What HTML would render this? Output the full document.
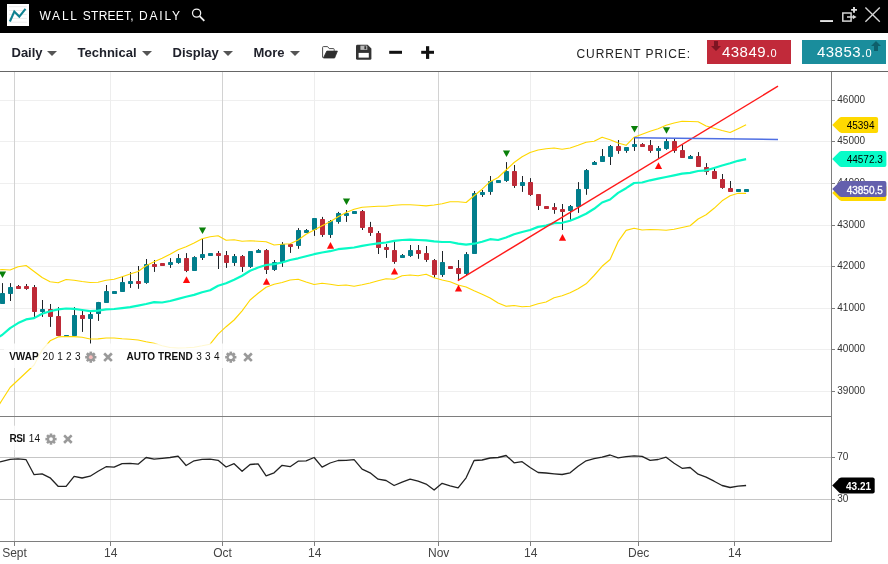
<!DOCTYPE html>
<html><head><meta charset="utf-8"><title>Wall Street, Daily</title>
<style>
html,body{margin:0;padding:0;background:#fff;}
body{width:888px;height:564px;position:relative;overflow:hidden;font-family:"Liberation Sans",sans-serif;}
#hdr{position:absolute;left:0;top:0;width:888px;height:33px;background:#000;}
#title{position:absolute;left:39px;top:7.5px;color:#fff;font-size:12px;letter-spacing:1.17px;line-height:16px;white-space:nowrap;}
#title span{position:absolute;top:0;}
#tb{position:absolute;left:0;top:33px;width:888px;height:38px;background:#fff;border-bottom:1px solid #666;}
.mi{position:absolute;top:12px;font-weight:bold;font-size:13px;line-height:15px;color:#20222c;white-space:nowrap;}
.car{position:absolute;top:17.5px;width:0;height:0;border-left:5px solid transparent;border-right:5px solid transparent;border-top:5.5px solid #555;}
#cp{position:absolute;left:576.5px;top:14px;font-size:12px;line-height:15px;color:#222;letter-spacing:0.9px;white-space:nowrap;}
.btn{position:absolute;top:7px;height:24px;color:#fff;font-size:15px;line-height:24px;white-space:nowrap;letter-spacing:0.45px;}
.btn small{font-size:11px;}
#sell{left:707px;width:84px;background:#c12a3a;}
#buy{left:802px;width:84px;background:#1a8d9c;}
#chart{position:absolute;left:0;top:0;}
</style></head><body>
<div id="hdr">
<svg width="888" height="33" style="position:absolute;left:0;top:0">
 <rect x="7" y="4" width="22" height="22" fill="#fff"/>
 <g stroke="#ececec" stroke-width="1"><line x1="9" y1="6.7" x2="26.8" y2="6.7"/><line x1="9" y1="10.5" x2="26.8" y2="10.5"/><line x1="9" y1="14.4" x2="26.8" y2="14.4"/><line x1="9" y1="18.4" x2="26.8" y2="18.4"/><line x1="9" y1="22.2" x2="26.8" y2="22.2"/></g>
 <polyline points="9.9,21.5 14.3,11.5 19.3,16.6 25.5,8.8" fill="none" stroke="#0e8090" stroke-width="2.1" stroke-linecap="butt" stroke-linejoin="miter"/>
 <g stroke="#f0f0f0" fill="none" stroke-width="1.25"><circle cx="196.6" cy="13.1" r="4.1"/><line x1="199.6" y1="16.2" x2="204.3" y2="20.9" stroke-width="1.8"/></g>
 <rect x="820.1" y="20.1" width="12.9" height="1.9" fill="#e4e4e4"/>
 <rect x="842.8" y="13" width="8.3" height="8.1" fill="none" stroke="#d4d4d4" stroke-width="1.5"/>
 <path d="M847,17 H853.4" stroke="#d4d4d4" stroke-width="1.5" fill="none"/><path d="M852.8,14.8 L856.6,17 L852.8,19.3 Z" fill="#dcdcdc"/>
 <path d="M854,7 V12.7 M851.1,9.85 H857" stroke="#e0e0e0" stroke-width="1.9" fill="none"/>
 <g stroke="#d6d6d6" stroke-width="1.35"><line x1="865.4" y1="7.4" x2="879.8" y2="21.7"/><line x1="879.8" y1="7.4" x2="865.4" y2="21.7"/></g>
</svg>
<div id="title"><span style="left:0.4px;letter-spacing:1.8px">WALL</span> <span style="left:43.8px;letter-spacing:0.25px">STREET,</span> <span style="left:100px;letter-spacing:1.8px">DAILY</span></div>
</div>
<div id="tb">
 <span class="mi" id="m1" style="left:11.5px">Daily</span><i class="car" style="left:47px"></i>
 <span class="mi" id="m2" style="left:77.5px">Technical</span><i class="car" style="left:142px"></i>
 <span class="mi" id="m3" style="left:172.5px">Display</span><i class="car" style="left:222.5px"></i>
 <span class="mi" id="m4" style="left:253.5px">More</span><i class="car" style="left:290px"></i>
 <svg width="130" height="38" style="position:absolute;left:315px;top:0">
  <g transform="translate(-315,-33)">
   <path d="M322.6,57.6 V47.4 Q322.6,46.6 323.4,46.6 H327.6 L329.2,48.6 H333.4 Q334.2,48.6 334.2,49.4 V50.8" fill="none" stroke="#4a4a4a" stroke-width="1" stroke-linejoin="round"/>
   <path d="M323.4,58 L326.8,51.1 H337.4 L334.6,58 Z" fill="#2e2e2e" stroke="#2e2e2e" stroke-width="0.8" stroke-linejoin="round"/>
   <path d="M357.4,44.8 H367.6 L371.4,48.4 V58.4 Q371.4,59.8 370,59.8 H357.4 Q356,59.8 356,58.4 V46.2 Q356,44.8 357.4,44.8 Z" fill="#333"/>
   <rect x="358.6" y="52.9" width="10.2" height="4.7" fill="#fff"/>
   <rect x="360.4" y="45.6" width="6.9" height="4.3" fill="#b9b9b9"/><rect x="364.4" y="46.2" width="1.8" height="3" fill="#333"/>
   <rect x="389.2" y="50.8" width="12.8" height="3" fill="#111"/>
   <rect x="421.2" y="50.8" width="12.8" height="3" fill="#111"/><rect x="426" y="46.2" width="3.2" height="12.7" fill="#111"/>
  </g>
 </svg>
 <div id="cp">CURRENT PRICE:</div>
 <div class="btn" id="sell"><svg width="10" height="11" style="position:absolute;left:4.2px;top:1.2px"><path d="M3,0 H7 V5 H10 L5,10 L0,5 H3 Z" fill="#7e1422"/></svg><span id="st" style="position:absolute;left:15px">43849.<small>0</small></span></div>
 <div class="btn" id="buy"><svg width="10" height="11" style="position:absolute;right:5.3px;top:1.2px"><path d="M3,10 H7 V5 H10 L5,0 L0,5 H3 Z" fill="#0e5f6b"/></svg><span id="bt" style="position:absolute;left:15px">43853.<small>0</small></span></div>
</div>
<svg id="chart" width="888" height="564" viewBox="0 0 888 564">
<g shape-rendering="crispEdges">
<rect x="0" y="100" width="831" height="1" fill="#efefef"/>
<rect x="0" y="141" width="831" height="1" fill="#efefef"/>
<rect x="0" y="183" width="831" height="1" fill="#efefef"/>
<rect x="0" y="225" width="831" height="1" fill="#efefef"/>
<rect x="0" y="266" width="831" height="1" fill="#efefef"/>
<rect x="0" y="308" width="831" height="1" fill="#efefef"/>
<rect x="0" y="349" width="831" height="1" fill="#efefef"/>
<rect x="0" y="391" width="831" height="1" fill="#efefef"/>
<rect x="14" y="72" width="1" height="469" fill="#d2d2d2"/>
<rect x="110" y="72" width="1" height="469" fill="#ededed"/>
<rect x="222" y="72" width="1" height="469" fill="#d2d2d2"/>
<rect x="314" y="72" width="1" height="469" fill="#ededed"/>
<rect x="438" y="72" width="1" height="469" fill="#d2d2d2"/>
<rect x="530" y="72" width="1" height="469" fill="#ededed"/>
<rect x="638" y="72" width="1" height="469" fill="#d2d2d2"/>
<rect x="734" y="72" width="1" height="469" fill="#ededed"/>
<rect x="0" y="457" width="832" height="1" fill="#c6c6c6"/>
<rect x="0" y="499" width="832" height="1" fill="#c6c6c6"/>
</g>
<g>
<rect x="2" y="283.1" width="1" height="20.6" fill="#1e2328"/>
<rect x="0" y="293" width="5" height="11" rx="0.7" fill="#027e8c"/>
<rect x="10" y="283.1" width="1" height="17.9" fill="#1e2328"/>
<rect x="8" y="287" width="5" height="7" rx="0.7" fill="#027e8c"/>
<rect x="18" y="285.0" width="1" height="3.8" fill="#1e2328"/>
<rect x="16" y="286" width="5" height="3" rx="0.7" fill="#be2a37"/>
<rect x="26" y="284.0" width="1" height="5.8" fill="#1e2328"/>
<rect x="24" y="286" width="5" height="3" rx="0.7" fill="#be2a37"/>
<rect x="34" y="285.0" width="1" height="31.9" fill="#1e2328"/>
<rect x="32" y="287" width="5" height="25" rx="0.7" fill="#be2a37"/>
<rect x="42" y="300.0" width="1" height="16.9" fill="#1e2328"/>
<rect x="40" y="309" width="5" height="3" rx="0.7" fill="#027e8c"/>
<rect x="50" y="304.0" width="1" height="22.9" fill="#1e2328"/>
<rect x="48" y="309" width="5" height="8" rx="0.7" fill="#be2a37"/>
<rect x="58" y="307.1" width="1" height="28.9" fill="#1e2328"/>
<rect x="56" y="316" width="5" height="20" rx="0.7" fill="#be2a37"/>
<rect x="64" y="335" width="5" height="2" rx="0.7" fill="#027e8c"/>
<rect x="74" y="307.1" width="1" height="28.8" fill="#1e2328"/>
<rect x="72" y="315" width="5" height="21" rx="0.7" fill="#027e8c"/>
<rect x="82" y="310.6" width="1" height="21.3" fill="#1e2328"/>
<rect x="80" y="315" width="5" height="4" rx="0.7" fill="#be2a37"/>
<rect x="90" y="312.0" width="1" height="31.8" fill="#1e2328"/>
<rect x="88" y="314" width="5" height="5" rx="0.7" fill="#027e8c"/>
<rect x="98" y="301.9" width="1" height="19.0" fill="#1e2328"/>
<rect x="96" y="302" width="5" height="12" rx="0.7" fill="#027e8c"/>
<rect x="106" y="285.0" width="1" height="17.8" fill="#1e2328"/>
<rect x="104" y="291" width="5" height="12" rx="0.7" fill="#027e8c"/>
<rect x="112" y="291" width="5" height="3" rx="0.7" fill="#027e8c"/>
<rect x="122" y="276.0" width="1" height="15.9" fill="#1e2328"/>
<rect x="120" y="282" width="5" height="10" rx="0.7" fill="#027e8c"/>
<rect x="130" y="272.1" width="1" height="15.8" fill="#1e2328"/>
<rect x="128" y="281" width="5" height="3" rx="0.7" fill="#027e8c"/>
<rect x="138" y="266.0" width="1" height="22.8" fill="#1e2328"/>
<rect x="136" y="281" width="5" height="3" rx="0.7" fill="#be2a37"/>
<rect x="146" y="259.0" width="1" height="24.8" fill="#1e2328"/>
<rect x="144" y="264" width="5" height="19" rx="0.7" fill="#027e8c"/>
<rect x="154" y="260.0" width="1" height="11.9" fill="#1e2328"/>
<rect x="152" y="264" width="5" height="3" rx="0.7" fill="#be2a37"/>
<rect x="160" y="263" width="5" height="3" rx="0.7" fill="#be2a37"/>
<rect x="170" y="258.1" width="1" height="9.8" fill="#1e2328"/>
<rect x="168" y="262" width="5" height="3" rx="0.7" fill="#027e8c"/>
<rect x="178" y="254.0" width="1" height="9.8" fill="#1e2328"/>
<rect x="176" y="258" width="5" height="5" rx="0.7" fill="#027e8c"/>
<rect x="186" y="253.1" width="1" height="19.0" fill="#1e2328"/>
<rect x="184" y="258" width="5" height="13" rx="0.7" fill="#be2a37"/>
<rect x="194" y="256.2" width="1" height="14.6" fill="#1e2328"/>
<rect x="192" y="257" width="5" height="14" rx="0.7" fill="#027e8c"/>
<rect x="202" y="239.0" width="1" height="21.0" fill="#1e2328"/>
<rect x="200" y="254" width="5" height="4" rx="0.7" fill="#027e8c"/>
<rect x="208" y="253" width="5" height="3" rx="0.7" fill="#027e8c"/>
<rect x="218" y="251.0" width="1" height="18.0" fill="#1e2328"/>
<rect x="216" y="253" width="5" height="3" rx="0.7" fill="#be2a37"/>
<rect x="226" y="251.0" width="1" height="16.9" fill="#1e2328"/>
<rect x="224" y="255" width="5" height="8" rx="0.7" fill="#be2a37"/>
<rect x="234" y="254.0" width="1" height="11.9" fill="#1e2328"/>
<rect x="232" y="256" width="5" height="7" rx="0.7" fill="#027e8c"/>
<rect x="242" y="255.0" width="1" height="16.9" fill="#1e2328"/>
<rect x="240" y="256" width="5" height="11" rx="0.7" fill="#be2a37"/>
<rect x="250" y="251.0" width="1" height="16.9" fill="#1e2328"/>
<rect x="248" y="251" width="5" height="16" rx="0.7" fill="#027e8c"/>
<rect x="258" y="249.0" width="1" height="3.9" fill="#1e2328"/>
<rect x="256" y="250" width="5" height="3" rx="0.7" fill="#027e8c"/>
<rect x="266" y="249.0" width="1" height="25.0" fill="#1e2328"/>
<rect x="264" y="250" width="5" height="20" rx="0.7" fill="#be2a37"/>
<rect x="274" y="260.0" width="1" height="10.9" fill="#1e2328"/>
<rect x="272" y="262" width="5" height="8" rx="0.7" fill="#027e8c"/>
<rect x="282" y="242.1" width="1" height="24.8" fill="#1e2328"/>
<rect x="280" y="244" width="5" height="18" rx="0.7" fill="#027e8c"/>
<rect x="290" y="243.0" width="1" height="9.9" fill="#1e2328"/>
<rect x="288" y="244" width="5" height="3" rx="0.7" fill="#be2a37"/>
<rect x="298" y="228.1" width="1" height="20.7" fill="#1e2328"/>
<rect x="296" y="230" width="5" height="16" rx="0.7" fill="#027e8c"/>
<rect x="306" y="229.0" width="1" height="3.9" fill="#1e2328"/>
<rect x="304" y="230" width="5" height="3" rx="0.7" fill="#027e8c"/>
<rect x="314" y="218.1" width="1" height="17.8" fill="#1e2328"/>
<rect x="312" y="218" width="5" height="12" rx="0.7" fill="#027e8c"/>
<rect x="322" y="216.9" width="1" height="20.0" fill="#1e2328"/>
<rect x="320" y="219" width="5" height="16" rx="0.7" fill="#be2a37"/>
<rect x="330" y="220.0" width="1" height="17.9" fill="#1e2328"/>
<rect x="328" y="221" width="5" height="14" rx="0.7" fill="#027e8c"/>
<rect x="338" y="211.9" width="1" height="11.8" fill="#1e2328"/>
<rect x="336" y="213" width="5" height="9" rx="0.7" fill="#027e8c"/>
<rect x="346" y="210.0" width="1" height="11.9" fill="#1e2328"/>
<rect x="344" y="213" width="5" height="3" rx="0.7" fill="#027e8c"/>
<rect x="352" y="211" width="5" height="3" rx="0.7" fill="#027e8c"/>
<rect x="362" y="210.0" width="1" height="20.0" fill="#1e2328"/>
<rect x="360" y="211" width="5" height="17" rx="0.7" fill="#be2a37"/>
<rect x="370" y="221.9" width="1" height="14.0" fill="#1e2328"/>
<rect x="368" y="227" width="5" height="6" rx="0.7" fill="#be2a37"/>
<rect x="378" y="231.0" width="1" height="23.0" fill="#1e2328"/>
<rect x="376" y="233" width="5" height="15" rx="0.7" fill="#be2a37"/>
<rect x="386" y="244.0" width="1" height="13.9" fill="#1e2328"/>
<rect x="384" y="247" width="5" height="3" rx="0.7" fill="#be2a37"/>
<rect x="394" y="240.0" width="1" height="23.8" fill="#1e2328"/>
<rect x="392" y="250" width="5" height="12" rx="0.7" fill="#be2a37"/>
<rect x="402" y="254.0" width="1" height="3.9" fill="#1e2328"/>
<rect x="400" y="255" width="5" height="3" rx="0.7" fill="#027e8c"/>
<rect x="410" y="245.0" width="1" height="11.9" fill="#1e2328"/>
<rect x="408" y="250" width="5" height="6" rx="0.7" fill="#027e8c"/>
<rect x="418" y="245.0" width="1" height="13.8" fill="#1e2328"/>
<rect x="416" y="250" width="5" height="4" rx="0.7" fill="#be2a37"/>
<rect x="426" y="246.0" width="1" height="15.9" fill="#1e2328"/>
<rect x="424" y="253" width="5" height="7" rx="0.7" fill="#be2a37"/>
<rect x="434" y="259.0" width="1" height="18.5" fill="#1e2328"/>
<rect x="432" y="260" width="5" height="15" rx="0.7" fill="#be2a37"/>
<rect x="442" y="251.0" width="1" height="25.9" fill="#1e2328"/>
<rect x="440" y="262" width="5" height="13" rx="0.7" fill="#027e8c"/>
<rect x="448" y="266" width="5" height="3" rx="0.7" fill="#be2a37"/>
<rect x="458" y="260.0" width="1" height="20.6" fill="#1e2328"/>
<rect x="456" y="268" width="5" height="6" rx="0.7" fill="#be2a37"/>
<rect x="466" y="252.1" width="1" height="22.9" fill="#1e2328"/>
<rect x="464" y="254" width="5" height="20" rx="0.7" fill="#027e8c"/>
<rect x="474" y="191.0" width="1" height="62.8" fill="#1e2328"/>
<rect x="472" y="193" width="5" height="61" rx="0.7" fill="#027e8c"/>
<rect x="482" y="190.0" width="1" height="6.9" fill="#1e2328"/>
<rect x="480" y="192" width="5" height="3" rx="0.7" fill="#027e8c"/>
<rect x="490" y="176.0" width="1" height="18.8" fill="#1e2328"/>
<rect x="488" y="181" width="5" height="11" rx="0.7" fill="#027e8c"/>
<rect x="496" y="180" width="5" height="3" rx="0.7" fill="#027e8c"/>
<rect x="506" y="162.1" width="1" height="19.8" fill="#1e2328"/>
<rect x="504" y="171" width="5" height="10" rx="0.7" fill="#027e8c"/>
<rect x="514" y="165.0" width="1" height="22.9" fill="#1e2328"/>
<rect x="512" y="171" width="5" height="15" rx="0.7" fill="#be2a37"/>
<rect x="522" y="176.0" width="1" height="15.9" fill="#1e2328"/>
<rect x="520" y="182" width="5" height="4" rx="0.7" fill="#027e8c"/>
<rect x="530" y="178.1" width="1" height="17.8" fill="#1e2328"/>
<rect x="528" y="182" width="5" height="13" rx="0.7" fill="#be2a37"/>
<rect x="538" y="194.0" width="1" height="16.0" fill="#1e2328"/>
<rect x="536" y="194" width="5" height="12" rx="0.7" fill="#be2a37"/>
<rect x="544" y="206" width="5" height="3" rx="0.7" fill="#be2a37"/>
<rect x="554" y="203.1" width="1" height="10.7" fill="#1e2328"/>
<rect x="552" y="207" width="5" height="3" rx="0.7" fill="#be2a37"/>
<rect x="562" y="204.0" width="1" height="26.0" fill="#1e2328"/>
<rect x="560" y="209" width="5" height="3" rx="0.7" fill="#be2a37"/>
<rect x="570" y="205.0" width="1" height="14.8" fill="#1e2328"/>
<rect x="568" y="206" width="5" height="5" rx="0.7" fill="#027e8c"/>
<rect x="578" y="182.1" width="1" height="30.8" fill="#1e2328"/>
<rect x="576" y="189" width="5" height="18" rx="0.7" fill="#027e8c"/>
<rect x="586" y="169.0" width="1" height="25.8" fill="#1e2328"/>
<rect x="584" y="170" width="5" height="19" rx="0.7" fill="#027e8c"/>
<rect x="594" y="161.0" width="1" height="4.0" fill="#1e2328"/>
<rect x="592" y="162" width="5" height="3" rx="0.7" fill="#027e8c"/>
<rect x="602" y="149.0" width="1" height="12.9" fill="#1e2328"/>
<rect x="600" y="156" width="5" height="6" rx="0.7" fill="#027e8c"/>
<rect x="610" y="145.0" width="1" height="20.0" fill="#1e2328"/>
<rect x="608" y="146" width="5" height="11" rx="0.7" fill="#027e8c"/>
<rect x="618" y="140.0" width="1" height="13.8" fill="#1e2328"/>
<rect x="616" y="146" width="5" height="5" rx="0.7" fill="#be2a37"/>
<rect x="626" y="147.1" width="1" height="5.7" fill="#1e2328"/>
<rect x="624" y="147" width="5" height="4" rx="0.7" fill="#027e8c"/>
<rect x="634" y="137.5" width="1" height="13.4" fill="#1e2328"/>
<rect x="632" y="144" width="5" height="3" rx="0.7" fill="#027e8c"/>
<rect x="642" y="143.1" width="1" height="3.8" fill="#1e2328"/>
<rect x="640" y="144" width="5" height="3" rx="0.7" fill="#be2a37"/>
<rect x="650" y="140.0" width="1" height="12.8" fill="#1e2328"/>
<rect x="648" y="145" width="5" height="6" rx="0.7" fill="#be2a37"/>
<rect x="658" y="146.0" width="1" height="12.1" fill="#1e2328"/>
<rect x="656" y="148" width="5" height="3" rx="0.7" fill="#027e8c"/>
<rect x="666" y="138.8" width="1" height="11.0" fill="#1e2328"/>
<rect x="664" y="141" width="5" height="8" rx="0.7" fill="#027e8c"/>
<rect x="674" y="138.8" width="1" height="14.0" fill="#1e2328"/>
<rect x="672" y="141" width="5" height="10" rx="0.7" fill="#be2a37"/>
<rect x="682" y="145.0" width="1" height="12.9" fill="#1e2328"/>
<rect x="680" y="150" width="5" height="8" rx="0.7" fill="#be2a37"/>
<rect x="690" y="155.0" width="1" height="3.8" fill="#1e2328"/>
<rect x="688" y="156" width="5" height="3" rx="0.7" fill="#027e8c"/>
<rect x="698" y="152.1" width="1" height="14.8" fill="#1e2328"/>
<rect x="696" y="156" width="5" height="11" rx="0.7" fill="#be2a37"/>
<rect x="706" y="163.1" width="1" height="11.7" fill="#1e2328"/>
<rect x="704" y="167" width="5" height="5" rx="0.7" fill="#be2a37"/>
<rect x="714" y="167.1" width="1" height="11.7" fill="#1e2328"/>
<rect x="712" y="171" width="5" height="8" rx="0.7" fill="#be2a37"/>
<rect x="722" y="174.0" width="1" height="14.8" fill="#1e2328"/>
<rect x="720" y="179" width="5" height="9" rx="0.7" fill="#be2a37"/>
<rect x="730" y="181.0" width="1" height="10.9" fill="#1e2328"/>
<rect x="728" y="188" width="5" height="4" rx="0.7" fill="#be2a37"/>
<rect x="736" y="189" width="5" height="3" rx="0.7" fill="#027e8c"/>
<rect x="744" y="189" width="5" height="3" rx="0.7" fill="#027e8c"/>
</g>
<polyline points="-5.5,270.3 2.1,269.5 10.1,270.0 18.1,266.7 26.1,265.5 34.1,271.5 42.1,277.5 50.1,281.8 58.1,282.8 66.1,279.5 74.1,280.3 82.1,281.5 90.1,282.5 98.1,282.3 106.1,280.3 114.1,279.3 122.1,276.7 130.1,274.0 138.1,271.5 146.1,265.8 154.1,261.7 162.1,258.3 170.1,254.2 178.1,249.7 186.1,246.7 194.1,243.0 202.1,238.7 210.1,236.7 218.1,235.8 226.1,240.3 234.1,239.7 242.1,241.2 250.1,240.8 258.1,241.3 266.1,241.7 274.1,245.0 282.1,244.2 290.1,243.7 298.1,240.0 306.1,234.2 314.1,230.0 322.1,225.8 330.1,221.7 338.1,216.7 346.1,212.5 354.1,209.2 362.1,207.2 370.1,206.7 378.1,206.3 386.1,206.2 394.1,205.3 402.1,204.7 410.1,204.7 418.1,205.3 426.1,205.9 434.1,205.0 442.1,203.7 450.1,201.7 458.1,201.7 466.1,202.5 474.1,195.8 482.1,189.2 490.1,181.7 498.1,177.5 506.1,170.0 514.1,162.5 522.1,156.7 530.1,152.5 538.1,150.0 546.1,148.8 554.1,148.0 562.1,149.2 570.1,148.0 578.1,145.3 586.1,142.2 594.1,141.2 602.1,137.2 610.1,139.7 618.1,143.0 626.1,145.3 634.1,137.2 642.1,134.2 650.1,131.3 658.1,128.7 666.1,125.3 674.1,123.0 682.1,121.3 690.1,121.5 698.1,121.8 706.1,126.0 714.1,128.3 722.1,130.5 730.1,132.5 738.1,128.7 746.1,124.7" fill="none" stroke="#ffd700" stroke-width="1.15" stroke-linejoin="round"/>
<polyline points="-5.5,412 2.1,400.0 10.1,387.5 18.1,380.0 26.1,372.5 34.1,365.0 42.1,350.0 50.1,340.8 58.1,336.9 66.1,336.5 74.1,336.6 82.1,337.3 90.1,339.0 98.1,338.9 106.1,338.0 114.1,338.0 122.1,338.7 130.1,339.2 138.1,340.0 146.1,341.8 154.1,343.3 162.1,345.8 170.1,347.5 178.1,348.0 186.1,347.7 194.1,347.2 202.1,345.8 210.1,344.2 218.1,334.2 226.1,326.7 234.1,320.0 242.1,310.8 250.1,300.0 258.1,293.3 266.1,287.2 274.1,284.3 282.1,282.5 290.1,280.0 298.1,279.2 306.1,282.0 314.1,284.5 322.1,283.3 330.1,284.2 338.1,285.5 346.1,285.0 354.1,286.2 362.1,284.7 370.1,283.0 378.1,280.8 386.1,278.8 394.1,279.2 402.1,275.8 410.1,275.0 418.1,275.8 426.1,274.2 434.1,277.8 442.1,280.0 450.1,281.7 458.1,285.0 466.1,287.0 474.1,290.8 482.1,294.2 490.1,298.0 498.1,303.0 506.1,306.3 514.1,305.5 522.1,306.7 530.1,306.2 538.1,303.8 546.1,302.0 554.1,297.8 562.1,295.8 570.1,292.8 578.1,288.8 586.1,283.8 594.1,275.5 602.1,266.3 610.1,259.5 618.1,241.7 626.1,230.4 634.1,228.3 642.1,230.0 650.1,229.5 658.1,229.8 666.1,230.3 674.1,229.2 682.1,227.5 690.1,225.8 698.1,219.0 706.1,214.8 714.1,208.3 722.1,200.8 730.1,195.8 738.1,193.3 746.1,193.3" fill="none" stroke="#ffd700" stroke-width="1.15" stroke-linejoin="round"/>
<polyline points="-5.5,339.5 2.1,335.0 10.1,328.1 18.1,323.1 26.1,319.4 34.1,318.1 42.1,313.8 50.1,311.2 58.1,309.4 66.1,308.5 74.1,308.8 82.1,310.0 90.1,311.2 98.1,310.6 106.1,309.4 114.1,309.0 122.1,308.1 130.1,307.1 138.1,305.6 146.1,304.0 154.1,302.1 162.1,302.5 170.1,301.0 178.1,298.9 186.1,296.8 194.1,294.9 202.1,292.2 210.1,290.3 218.1,285.8 226.1,283.3 234.1,279.7 242.1,275.8 250.1,270.8 258.1,267.5 266.1,265.0 274.1,264.2 282.1,262.5 290.1,260.0 298.1,258.3 306.1,256.2 314.1,254.2 322.1,252.5 330.1,251.2 338.1,249.2 346.1,248.3 354.1,247.5 362.1,245.8 370.1,244.5 378.1,243.3 386.1,242.5 394.1,240.8 402.1,240.0 410.1,239.7 418.1,240.0 426.1,240.3 434.1,241.3 442.1,242.0 450.1,242.0 458.1,243.7 466.1,244.7 474.1,243.7 482.1,241.7 490.1,239.2 498.1,240.0 506.1,237.5 514.1,234.2 522.1,232.0 530.1,230.0 538.1,226.9 546.1,225.6 554.1,223.1 562.1,222.8 570.1,220.8 578.1,217.5 586.1,213.7 594.1,208.8 602.1,202.5 610.1,199.5 618.1,192.9 626.1,188.2 634.1,183.0 642.1,182.5 650.1,180.3 658.1,178.7 666.1,177.0 674.1,175.3 682.1,173.7 690.1,172.9 698.1,171.0 706.1,170.4 714.1,168.0 722.1,165.5 730.1,163.3 738.1,160.8 746.1,159.2" fill="none" stroke="#08fac6" stroke-width="2.2" stroke-linejoin="round"/>
<line x1="457.8" y1="280.6" x2="778" y2="86.2" stroke="#ff1a1a" stroke-width="1.4"/>
<line x1="634" y1="137.8" x2="778" y2="139.5" stroke="#4f6fe3" stroke-width="1.5"/>
<polygon points="-1.1,271.5 6.1,271.5 2.5,278.1" fill="#0a800a"/>
<polygon points="198.9,227.4 206.1,227.4 202.5,234" fill="#0a800a"/>
<polygon points="342.9,198.4 350.1,198.4 346.5,205" fill="#0a800a"/>
<polygon points="502.9,150.5 510.1,150.5 506.5,157.1" fill="#0a800a"/>
<polygon points="630.9,125.9 638.1,125.9 634.5,132.5" fill="#0a800a"/>
<polygon points="662.9,127.15 670.1,127.15 666.5,133.75" fill="#0a800a"/>
<polygon points="182.9,282.90000000000003 190.1,282.90000000000003 186.5,276.20000000000005" fill="#ff0a0a"/>
<polygon points="262.9,284.8 270.1,284.8 266.5,278.1" fill="#ff0a0a"/>
<polygon points="326.9,248.70000000000002 334.1,248.70000000000002 330.5,242.0" fill="#ff0a0a"/>
<polygon points="390.9,274.55 398.1,274.55 394.5,267.85" fill="#ff0a0a"/>
<polygon points="454.9,291.40000000000003 462.1,291.40000000000003 458.5,284.70000000000005" fill="#ff0a0a"/>
<polygon points="558.9,240.8 566.1,240.8 562.5,234.1" fill="#ff0a0a"/>
<polygon points="654.9,168.9 662.1,168.9 658.5,162.2" fill="#ff0a0a"/>
<polyline points="-5.5,463.5 2.1,461.3 10.1,459.3 18.1,458.8 26.1,459.7 34.1,474.7 42.1,473.8 50.1,477.8 58.1,486.3 66.1,486.3 74.1,476.3 82.1,478.0 90.1,476.2 98.1,471.3 106.1,466.7 114.1,467.2 122.1,463.7 130.1,463.3 138.1,464.2 146.1,457.5 154.1,459.2 162.1,458.3 170.1,457.5 178.1,456.2 186.1,465.5 194.1,460.8 202.1,459.3 210.1,459.2 218.1,460.3 226.1,467.0 234.1,463.7 242.1,471.3 250.1,464.5 258.1,463.8 266.1,475.8 274.1,472.8 282.1,465.3 290.1,466.7 298.1,461.2 306.1,460.8 314.1,457.5 322.1,467.2 330.1,463.0 338.1,460.5 346.1,460.3 354.1,459.7 362.1,469.2 370.1,472.8 378.1,479.2 386.1,480.5 394.1,485.5 402.1,482.2 410.1,479.2 418.1,481.2 426.1,484.1 434.1,490.0 442.1,483.3 450.1,485.8 458.1,487.8 466.1,477.8 474.1,460.5 482.1,460.0 490.1,458.0 498.1,457.5 506.1,455.5 514.1,462.8 522.1,461.7 530.1,467.5 538.1,472.5 546.1,473.0 554.1,473.8 562.1,474.5 570.1,472.8 578.1,466.2 586.1,460.8 594.1,458.7 602.1,457.2 610.1,455.0 618.1,457.8 626.1,456.7 634.1,455.8 642.1,456.3 650.1,460.3 658.1,459.5 666.1,457.2 674.1,463.3 682.1,468.3 690.1,467.5 698.1,474.2 706.1,477.2 714.1,481.2 722.1,485.5 730.1,487.5 738.1,486.2 746.1,485.5" fill="none" stroke="#222" stroke-width="1.3" stroke-linejoin="round"/>
<rect x="4" y="343.5" width="256" height="24.5" fill="#fff" fill-opacity="0.82"/>
<rect x="4" y="425.7" width="76" height="24.3" fill="#fff" fill-opacity="0.82"/>
<g shape-rendering="crispEdges" fill="#7e7e7e">
<rect x="0" y="416" width="832" height="1"/>
<rect x="0" y="541" width="832" height="1"/>
<rect x="831" y="72" width="1" height="470"/>
<rect x="832" y="100" width="3" height="1"/>
<rect x="832" y="141" width="3" height="1"/>
<rect x="832" y="183" width="3" height="1"/>
<rect x="832" y="225" width="3" height="1"/>
<rect x="832" y="266" width="3" height="1"/>
<rect x="832" y="308" width="3" height="1"/>
<rect x="832" y="349" width="3" height="1"/>
<rect x="832" y="391" width="3" height="1"/>
<rect x="832" y="457" width="3" height="1"/>
<rect x="832" y="499" width="3" height="1"/>
<rect x="14" y="542" width="1" height="4"/>
<rect x="110" y="542" width="1" height="4"/>
<rect x="222" y="542" width="1" height="4"/>
<rect x="314" y="542" width="1" height="4"/>
<rect x="438" y="542" width="1" height="4"/>
<rect x="530" y="542" width="1" height="4"/>
<rect x="638" y="542" width="1" height="4"/>
<rect x="734" y="542" width="1" height="4"/>
</g>
<g font-family="Liberation Sans, sans-serif" font-size="10" fill="#333">
<text x="837.3" y="103.4">46000</text>
<text x="837.3" y="144.4">45000</text>
<text x="837.3" y="186.4">44000</text>
<text x="837.3" y="228.4">43000</text>
<text x="837.3" y="269.4">42000</text>
<text x="837.3" y="311.4">41000</text>
<text x="837.3" y="352.4">40000</text>
<text x="837.3" y="394.4">39000</text>
<text x="837.3" y="460.4">70</text>
<text x="837.3" y="502.4">30</text>
</g>
<g font-family="Liberation Sans, sans-serif" font-size="12" fill="#444" text-anchor="middle">
<text x="14.5" y="556.7">Sept</text>
<text x="110.7" y="556.7">14</text>
<text x="222.5" y="556.7">Oct</text>
<text x="314.7" y="556.7">14</text>
<text x="438.7" y="556.7">Nov</text>
<text x="530.7" y="556.7">14</text>
<text x="638.7" y="556.7">Dec</text>
<text x="734.7" y="556.7">14</text>
</g>
<path d="M832.2,124.9 L839.4000000000001,117.7 Q840.2,116.9 841.6,116.9 H876.1 Q878.1,116.9 878.1,118.9 V130.9 Q878.1,132.9 876.1,132.9 H841.6 Q840.2,132.9 839.4000000000001,132.1 Z" fill="#ffd900"/><text x="874.5" y="129.3" text-anchor="end" font-family="Liberation Sans, sans-serif" font-size="10" fill="#000"  >45394</text>
<path d="M832.2,159 L839.4000000000001,151.8 Q840.2,151.0 841.6,151.0 H884.4 Q886.4,151.0 886.4,153.0 V165.0 Q886.4,167.0 884.4,167.0 H841.6 Q840.2,167.0 839.4000000000001,166.2 Z" fill="#08fcc8"/><text x="882.8" y="163.4" text-anchor="end" font-family="Liberation Sans, sans-serif" font-size="10" fill="#000"  >44572.3</text>
<path d="M832.2,192.9 L839.4000000000001,185.70000000000002 Q840.2,184.9 841.6,184.9 H884.4 Q886.4,184.9 886.4,186.9 V198.9 Q886.4,200.9 884.4,200.9 H841.6 Q840.2,200.9 839.4000000000001,200.1 Z" fill="#ffd900"/>
<path d="M832.2,189.1 L839.4000000000001,181.9 Q840.2,181.1 841.6,181.1 H884.4 Q886.4,181.1 886.4,183.1 V195.1 Q886.4,197.1 884.4,197.1 H841.6 Q840.2,197.1 839.4000000000001,196.29999999999998 Z" fill="#6460ad"/><text x="882.8" y="193.5" text-anchor="end" font-family="Liberation Sans, sans-serif" font-size="10" fill="#fff"  stroke="#fff" stroke-width="0.3">43850.5</text>
<path d="M832.2,485.5 L839.4000000000001,478.3 Q840.2,477.5 841.6,477.5 H872.7 Q874.7,477.5 874.7,479.5 V491.5 Q874.7,493.5 872.7,493.5 H841.6 Q840.2,493.5 839.4000000000001,492.7 Z" fill="#000"/><text x="871.1" y="489.9" text-anchor="end" font-family="Liberation Sans, sans-serif" font-size="10" fill="#fff" font-weight="bold" >43.21</text>
<g font-family="Liberation Sans, sans-serif" font-size="10" fill="#111">
<text x="9.2" y="360"><tspan font-weight="bold" letter-spacing="0">VWAP</tspan><tspan dx="0.9" letter-spacing="0.25"> 20 1 2 3</tspan></text>
<text id="at" x="126.5" y="360"><tspan font-weight="bold" letter-spacing="0.1">AUTO TREND</tspan><tspan dx="0.3" letter-spacing="0.25"> 3 3 4</tspan></text>
<text x="9.5" y="441.9"><tspan font-weight="bold" letter-spacing="-0.45">RSI</tspan><tspan dx="0.9" letter-spacing="0.2"> 14</tspan></text>
</g>
<g transform="translate(90.8,357.2)" fill="#9a9a9a"><rect x="-1.3" y="-5.6" width="2.6" height="11.2" transform="rotate(0.0)"/><rect x="-1.3" y="-5.6" width="2.6" height="11.2" transform="rotate(45.0)"/><rect x="-1.3" y="-5.6" width="2.6" height="11.2" transform="rotate(90.0)"/><rect x="-1.3" y="-5.6" width="2.6" height="11.2" transform="rotate(135.0)"/><circle r="4.088"/><circle r="1.9" fill="#f7bcbc"/></g>
<g transform="translate(108,357.2) rotate(45)" fill="#9a9a9a"><rect x="-5.4" y="-1.35" width="10.8" height="2.7" rx="0.5"/><rect x="-1.35" y="-5.4" width="2.7" height="10.8" rx="0.5"/></g>
<g transform="translate(230.8,357.2)" fill="#9a9a9a"><rect x="-1.3" y="-5.6" width="2.6" height="11.2" transform="rotate(0.0)"/><rect x="-1.3" y="-5.6" width="2.6" height="11.2" transform="rotate(45.0)"/><rect x="-1.3" y="-5.6" width="2.6" height="11.2" transform="rotate(90.0)"/><rect x="-1.3" y="-5.6" width="2.6" height="11.2" transform="rotate(135.0)"/><circle r="4.088"/><circle r="1.9" fill="#fff"/></g>
<g transform="translate(248,357.2) rotate(45)" fill="#9a9a9a"><rect x="-5.4" y="-1.35" width="10.8" height="2.7" rx="0.5"/><rect x="-1.35" y="-5.4" width="2.7" height="10.8" rx="0.5"/></g>
<g transform="translate(51,439.1)" fill="#9a9a9a"><rect x="-1.3" y="-5.6" width="2.6" height="11.2" transform="rotate(0.0)"/><rect x="-1.3" y="-5.6" width="2.6" height="11.2" transform="rotate(45.0)"/><rect x="-1.3" y="-5.6" width="2.6" height="11.2" transform="rotate(90.0)"/><rect x="-1.3" y="-5.6" width="2.6" height="11.2" transform="rotate(135.0)"/><circle r="4.088"/><circle r="1.9" fill="#fff"/></g>
<g transform="translate(67.9,439.1) rotate(45)" fill="#9a9a9a"><rect x="-5.4" y="-1.35" width="10.8" height="2.7" rx="0.5"/><rect x="-1.35" y="-5.4" width="2.7" height="10.8" rx="0.5"/></g>
</svg>
</body></html>
